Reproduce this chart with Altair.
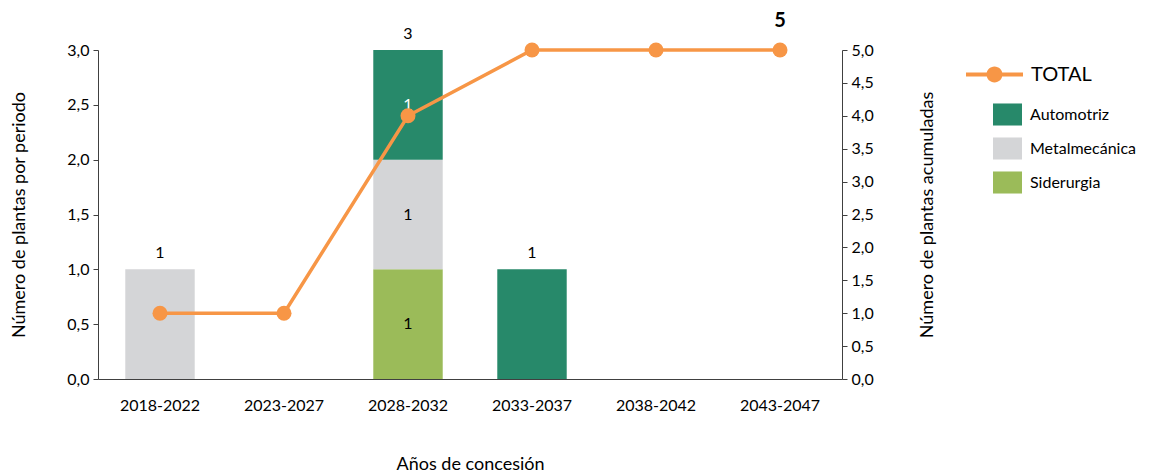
import altair as alt
import pandas as pd

# ---- data ----
periodos = ["2018-2022", "2023-2027", "2028-2032", "2033-2037", "2038-2042", "2043-2047"]
automotriz = [0, 0, 1, 1, 0, 0]
metalmecanica = [1, 0, 1, 0, 0, 0]
siderurgia = [0, 0, 1, 0, 0, 0]
total_acumulado = [1, 1, 4, 5, 5, 5]

series_barras = ["Automotriz", "Metalmecánica", "Siderurgia"]
colores_barras = ["#27896A", "#D4D5D7", "#9BBB59"]
color_total = "#F79646"

FONT = "Lato"
AXC = "#404040"

# ---- tables ----
rows = []
for i, p in enumerate(periodos):
    acc = 0
    for s, vals, orden in [("Siderurgia", siderurgia, 0),
                           ("Metalmecánica", metalmecanica, 1),
                           ("Automotriz", automotriz, 2)]:
        v = vals[i]
        if v > 0:
            rows.append(dict(periodo=p, serie=s, valor=v, orden=orden,
                             mid=acc + v / 2))
            acc += v
bars_df = pd.DataFrame(rows)
bars_df["n_seg"] = bars_df.groupby("periodo")["valor"].transform("count")

por_periodo = [a + b + c for a, b, c in zip(automotriz, metalmecanica, siderurgia)]
tot_df = pd.DataFrame({"periodo": periodos, "por_periodo": por_periodo,
                       "acumulado": total_acumulado, "serie": "TOTAL"})

fmt = "replace(format(datum.value, '.1f'), '.', ',')"

x = alt.X("periodo:N", sort=periodos,
          scale=alt.Scale(paddingInner=0.44, paddingOuter=0.22),
          axis=alt.Axis(title="Años de concesión", labelAngle=0, ticks=False,
                        labelFontSize=16, titleFontSize=18, labelPadding=18,
                        titlePadding=42, domainColor=AXC, labelColor="#000",
                        titleColor="#000", titleFontWeight="normal"))

yleft_axis = alt.Axis(title="Número de plantas por periodo",
                      values=[0, 0.5, 1, 1.5, 2, 2.5, 3], labelExpr=fmt,
                      grid=False, tickSize=5, tickColor=AXC, domainColor=AXC,
                      labelFontSize=16, titleFontSize=18, labelPadding=4,
                      titlePadding=38, labelColor="#000", titleColor="#000",
                      titleFontWeight="normal")
yleft_scale = alt.Scale(domain=[0, 3], nice=False)

bars = alt.Chart(bars_df).mark_bar().encode(
    x=x,
    y=alt.Y("valor:Q", stack="zero", scale=yleft_scale, axis=yleft_axis),
    color=alt.Color("serie:N", scale=alt.Scale(domain=series_barras, range=colores_barras),
                    legend=alt.Legend(title=None, orient="none", legendX=895, legendY=50,
                                      symbolType="M-1,-0.76L1,-0.76L1,0.76L-1,0.76Z",
                                      symbolSize=841, symbolStrokeWidth=0,
                                      labelFontSize=16, labelColor="#000",
                                      labelOffset=8, rowPadding=8)),
    order=alt.Order("orden:Q"),
)

seg_text = alt.Chart(bars_df).transform_filter("datum.n_seg > 1").mark_text(
    fontSize=16, baseline="middle").encode(
    x=x,
    y=alt.Y("mid:Q", stack=None, scale=yleft_scale, axis=yleft_axis),
    text=alt.Text("valor:Q"),
    color=alt.condition("datum.serie == 'Automotriz'", alt.value("white"), alt.value("black")),
)

bar_labels = alt.Chart(tot_df).transform_filter("datum.por_periodo > 0").mark_text(
    fontSize=16, baseline="middle", dy=-16, color="black").encode(
    x=x,
    y=alt.Y("por_periodo:Q", scale=yleft_scale, axis=yleft_axis),
    text=alt.Text("por_periodo:Q"),
)

left = alt.layer(bars, seg_text, bar_labels)

yright_axis = alt.Axis(title="Número de plantas acumuladas", orient="right",
                       values=[0, 0.5, 1, 1.5, 2, 2.5, 3, 3.5, 4, 4.5, 5], labelExpr=fmt,
                       grid=False, tickSize=5, tickColor=AXC, domainColor=AXC,
                       labelFontSize=16, titleFontSize=18, labelPadding=4,
                       titlePadding=63, titleAngle=270, labelColor="#000",
                       titleColor="#000", titleFontWeight="normal")
yright_scale = alt.Scale(domain=[0, 5], nice=False)

line = alt.Chart(tot_df).mark_line(color=color_total, strokeWidth=3.5).encode(
    x=x,
    y=alt.Y("acumulado:Q", scale=yright_scale, axis=yright_axis),
)

points = alt.Chart(tot_df).mark_point(filled=True, opacity=1, size=225, shape="circle").encode(
    x=x,
    y=alt.Y("acumulado:Q", scale=yright_scale, axis=yright_axis),
    color=alt.Color("serie:N", scale=alt.Scale(domain=["TOTAL"], range=[color_total]),
                    legend=alt.Legend(title=None, orient="none", legendX=868, legendY=-4,
                                      symbolType="M-1,-0.07L1,-0.07L1,0.07L-1,0.07Z M0.28,0A0.28,0.28,0,1,1,-0.28,0A0.28,0.28,0,1,1,0.28,0Z",
                                      symbolSize=3249, symbolStrokeWidth=0,
                                      labelFontSize=20, labelColor="#000", labelOffset=8)),
)

last_label = alt.Chart(tot_df).transform_window(
    rn="row_number()").transform_filter(f"datum.rn == {len(periodos)}").mark_text(
    fontSize=20, fontWeight="bold", baseline="middle", dy=-29, color="black").encode(
    x=x,
    y=alt.Y("acumulado:Q", scale=yright_scale, axis=yright_axis),
    text=alt.Text("acumulado:Q"),
)

right = alt.layer(line, points, last_label)

chart = alt.layer(left, right).resolve_scale(y="independent", color="independent").properties(
    width=744, height=329,
    padding={"left": 90, "top": 42, "right": 317, "bottom": 94},
    autosize=alt.AutoSizeParams(type="none"),
).configure(font=FONT).configure_view(stroke=None)

chart.save("out.html", embed_options={"renderer": "svg", "actions": False})
